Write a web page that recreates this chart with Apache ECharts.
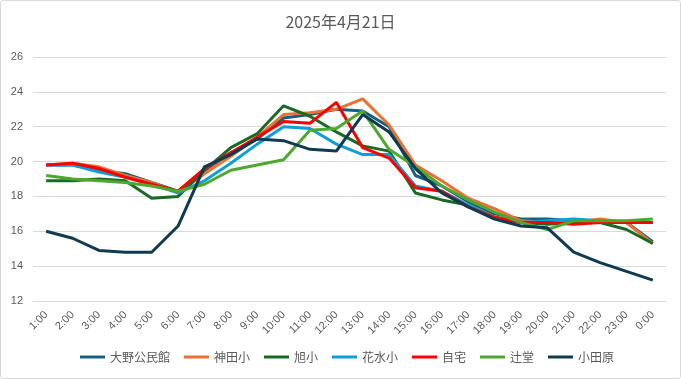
<!DOCTYPE html>
<html>
<head>
<meta charset="utf-8">
<script src="https://cdn.jsdelivr.net/npm/echarts@6/dist/echarts.min.js"></script>
<style>
html,body{margin:0;padding:0;background:#fff;}
#c{width:679px;height:377px;border:1px solid #d9d9d9;border-radius:3px;}
</style>
</head>
<body>
<div id="c"></div>
<script>
const categories = ['1:00','2:00','3:00','4:00','5:00','6:00','7:00','8:00','9:00','10:00','11:00','12:00','13:00','14:00','15:00','16:00','17:00','18:00','19:00','20:00','21:00','22:00','23:00','0:00'];
const ono   = [19.8,19.8,19.5,19.3,18.8,18.3,19.5,20.5,21.3,22.5,22.7,23.0,22.9,22.0,19.2,18.6,17.7,17.0,16.7,16.7,16.6,16.6,16.5,15.4];
const kanda = [19.8,19.9,19.7,19.2,18.8,18.2,19.3,20.3,21.4,22.7,22.8,23.0,23.6,22.1,19.8,18.9,17.9,17.3,16.6,16.5,16.5,16.7,16.5,15.3];
const asahi = [18.9,18.9,19.0,18.9,17.9,18.0,19.5,20.8,21.6,23.2,22.6,21.7,20.9,20.6,18.2,17.8,17.5,16.8,16.5,16.4,16.5,16.5,16.1,15.3];
const hanamizu = [19.8,19.8,19.4,19.1,18.7,18.2,18.9,19.9,21.0,22.0,21.9,21.0,20.4,20.4,18.6,18.3,17.5,16.8,16.5,16.6,16.7,16.6,16.5,16.5];
const jitaku = [19.8,19.9,19.6,19.1,18.7,18.3,19.6,20.5,21.4,22.3,22.2,23.4,20.8,20.2,18.5,18.3,17.4,16.8,16.5,16.5,16.4,16.5,16.5,16.5];
const tsujido = [19.2,19.0,18.9,18.8,18.6,18.3,18.7,19.5,19.8,20.1,21.8,21.9,22.9,20.7,19.7,18.6,17.8,17.1,16.5,16.1,16.6,16.6,16.6,16.7];
const odawara = [16.0,15.6,14.9,14.8,14.8,16.3,19.7,20.4,21.3,21.2,20.7,20.6,22.7,21.7,19.6,18.2,17.4,16.7,16.3,16.2,14.8,14.2,13.7,13.2];
const yTicks = {min:12, max:26, interval:2};

const seriesDefs = [
  ['大野公民館', ono, '#156082'],
  ['神田小', kanda, '#E97132'],
  ['旭小', asahi, '#196B24'],
  ['花水小', hanamizu, '#0F9ED5'],
  ['自宅', jitaku, '#FF0000'],
  ['辻堂', tsujido, '#4EA72E'],
  ['小田原', odawara, '#0E3A52']
];

const chart = echarts.init(document.getElementById('c'));
chart.setOption({
  animation:false,
  title:{text:'2025年4月21日', left:'center', top:8,
    textStyle:{color:'#595959', fontSize:16, fontWeight:'normal', fontFamily:'Noto Sans CJK JP'}},
  legend:{bottom:10, left:74, itemWidth:25, itemHeight:3, itemGap:14, icon:'rect',
    textStyle:{color:'#595959', fontSize:12, fontFamily:'Noto Sans CJK JP'},
    data:seriesDefs.map(s=>s[0])},
  grid:{left:32, right:14, top:56, bottom:77},
  xAxis:{type:'category', data:categories, boundaryGap:true,
    axisLine:{lineStyle:{color:'#d9d9d9'}}, axisTick:{show:false},
    axisLabel:{color:'#595959', fontSize:11, rotate:45, interval:0, margin:12, fontFamily:'Liberation Sans'}},
  yAxis:{type:'value', min:yTicks.min, max:yTicks.max, interval:yTicks.interval,
    axisLine:{show:false}, axisTick:{show:false},
    axisLabel:{color:'#595959', fontSize:11, margin:10, fontFamily:'Liberation Sans'},
    splitLine:{lineStyle:{color:'#d9d9d9'}}},
  series:seriesDefs.map(s=>({name:s[0], type:'line', data:s[1], showSymbol:false, symbol:'none',
    lineStyle:{width:3, color:s[2]}, itemStyle:{color:s[2]}}))
});
</script>
</body>
</html>
